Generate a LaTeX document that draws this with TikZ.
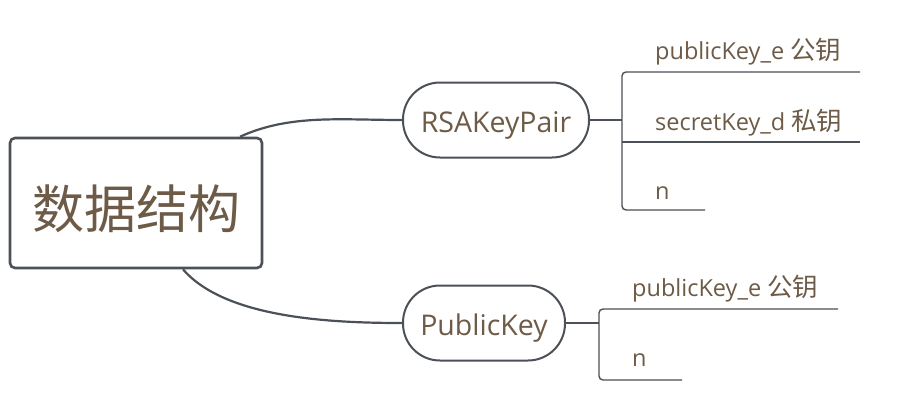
\documentclass[tikz,border=0pt]{standalone}
\usepackage{fontspec}
\setmainfont{Open Sans}
\newfontfamily\cjk{Noto Sans CJK SC}
\newcommand{\zh}[1]{{\cjk\fontsize{25.5}{28}\selectfont #1}}
\begin{document}
\begin{tikzpicture}[x=1pt,y=-1pt,
  edge/.style={draw=linegray, line width=2.2pt},
  branch/.style={draw=linegray, line width=1.4pt, rounded corners=4pt},
  txt/.style={text=txtbrown, inner sep=0pt, font=\fontsize{23.5}{28}\selectfont},
  pill/.style={draw=linegray, line width=2pt, rounded corners=37pt, minimum height=75pt, text=txtbrown, font=\fontsize{28.5}{34}\selectfont, fill=white, text height=24pt, text depth=0pt, inner sep=0pt}]
\definecolor{linegray}{HTML}{4B5157}
\definecolor{txtbrown}{HTML}{6E5B47}
\useasboundingbox (0,0) rectangle (923,402);
\fill[white] (0,0) rectangle (923,402);
% central
\node[draw=linegray, line width=2.6pt, rounded corners=5pt, minimum width=252pt, minimum height=130pt, text=txtbrown, font=\cjk\fontsize{52}{60}\selectfont, text height=50pt, text depth=0pt, inner sep=0pt] (root) at (136,203) {数据结构};
% level 1
\node[pill, minimum width=186pt] (rsa) at (496,120) {RSAKeyPair};
\node[pill, minimum width=162pt] (pub) at (484,323) {PublicKey};
\draw[edge] ([xshift=104pt]root.north) .. controls (290,114) and (340,120) .. (rsa.west);
\draw[edge] ([xshift=47pt]root.south) .. controls (225,318) and (330,323) .. (pub.west);
% RSA children
\node[txt, anchor=base west] (r1) at (655,59) {publicKey\_e \zh{公钥}};
\node[txt, anchor=base west] (r2) at (655,130) {secretKey\_d \zh{私钥}};
\node[txt, anchor=base west] (r3) at (655,199) {n};
\coordinate (rj) at (622,120);
\coordinate (r1e) at (860,72);
\coordinate (r2e) at (860,142);
\coordinate (r3e) at (705,210);
\draw[edge, line width=1.8pt] (rsa.east) -- (rj);
\draw[branch] (r1e) -- (622,72) -- (622,210) -- (r3e);
\draw[branch] (622,142) -- (r2e);
% PublicKey children
\node[txt, anchor=base west] (p1) at (632,296) {publicKey\_e \zh{公钥}};
\node[txt, anchor=base west] (p2) at (632,366) {n};
\coordinate (pj) at (599,323);
\coordinate (p1e) at (838,309);
\coordinate (p2e) at (682,380);
\draw[edge, line width=1.8pt] (pub.east) -- (pj);
\draw[branch] (p1e) -- (599,309) -- (599,380) -- (p2e);
\end{tikzpicture}
\end{document}
